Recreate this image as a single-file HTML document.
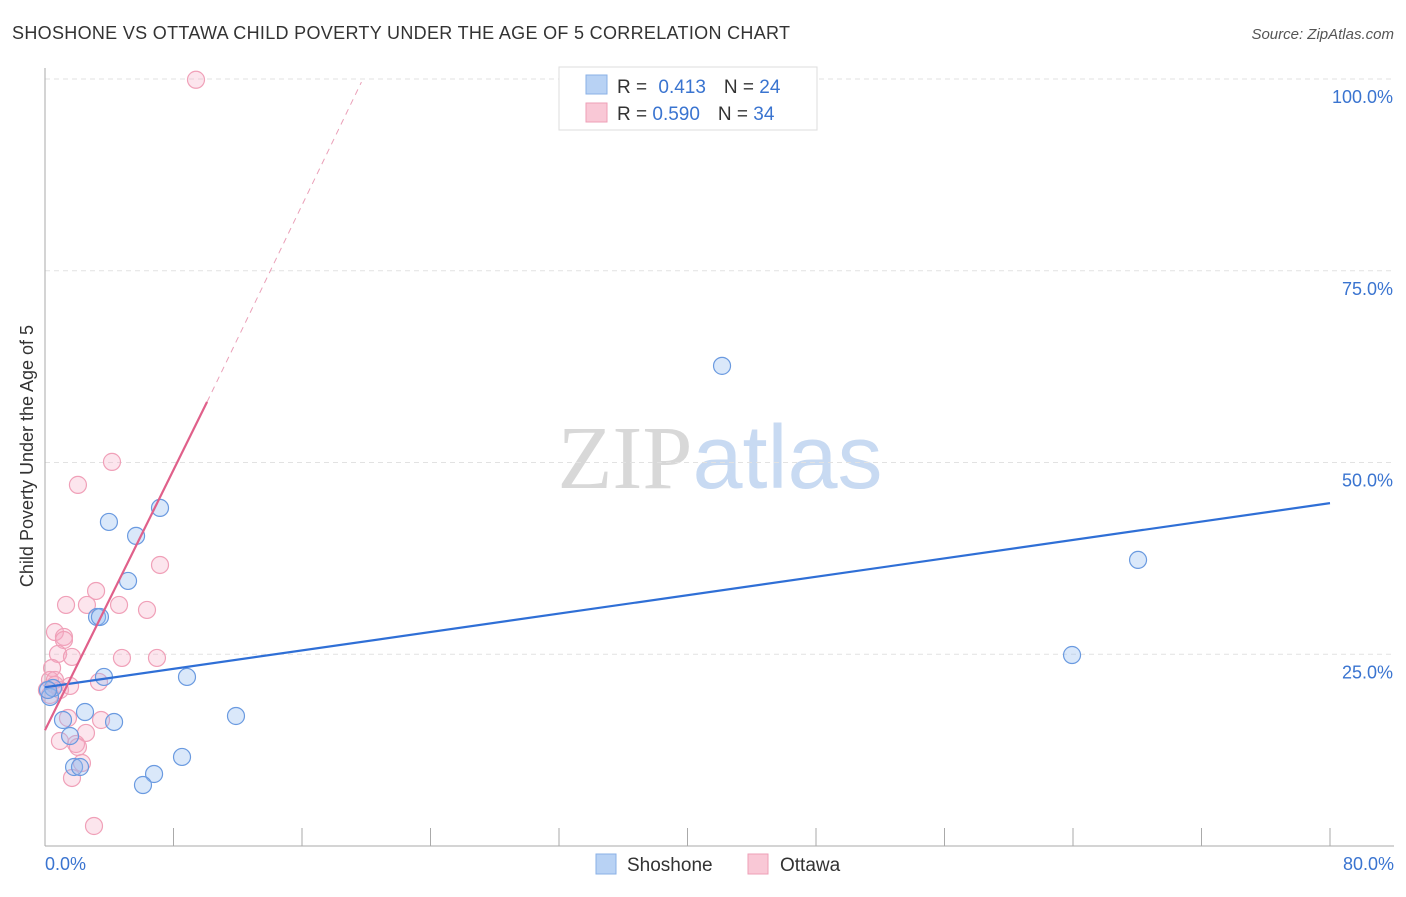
<!DOCTYPE html>
<html><head><meta charset="utf-8"><style>
body{margin:0;background:#fff;font-family:"Liberation Sans",sans-serif;}
svg text{font-family:"Liberation Sans",sans-serif;}
</style></head><body>
<svg id="chart" width="1406" height="892" xmlns="http://www.w3.org/2000/svg">
<text x="12" y="39" font-size="18" fill="#333" textLength="778" lengthAdjust="spacing">SHOSHONE VS OTTAWA CHILD POVERTY UNDER THE AGE OF 5 CORRELATION CHART</text>
<text x="1394" y="39" font-size="15" fill="#555" font-style="italic" text-anchor="end">Source: ZipAtlas.com</text>
<text x="720" y="488" font-size="90" text-anchor="middle"><tspan fill="#d8d8d8" font-family="Liberation Serif">ZIP</tspan><tspan fill="#c8daf2">atlas</tspan></text>
<g id="grid"></g>
<g id="axes"></g>
<g id="pts"></g>
<g id="trends"></g>
<text transform="translate(33,456) rotate(-90)" font-size="18" fill="#333" text-anchor="middle">Child Poverty Under the Age of 5</text>
<text x="45" y="870" font-size="18" fill="#3a74d0">0.0%</text>
<text x="1394" y="870" font-size="18" fill="#3a74d0" text-anchor="end">80.0%</text>
<g>
<rect x="559" y="67" width="258" height="63" fill="#fff" stroke="#ddd"/>
<rect x="586" y="75" width="21" height="19" fill="#b8d2f4" stroke="#8ab0e6"/>
<rect x="586" y="103" width="21" height="19" fill="#f9c8d6" stroke="#ee9fb7"/>
<text x="617" y="93" font-size="19" fill="#333">R = <tspan fill="#3a74d0" dx="6">0.413</tspan><tspan dx="18" fill="#333">N = </tspan><tspan fill="#3a74d0">24</tspan></text>
<text x="617" y="120" font-size="19" fill="#333">R = <tspan fill="#3a74d0">0.590</tspan><tspan dx="18" fill="#333">N = </tspan><tspan fill="#3a74d0">34</tspan></text>
</g>
<g>
<rect x="596" y="854" width="20" height="20" fill="#b8d2f4" stroke="#8ab0e6"/>
<text x="627" y="871" font-size="19" fill="#333">Shoshone</text>
<rect x="748" y="854" width="20" height="20" fill="#f9c8d6" stroke="#ee9fb7"/>
<text x="780" y="871" font-size="19" fill="#333">Ottawa</text>
</g>
</svg>
<script>
const yTicks=[25,50,75,100];
const yTickLabels=["25.0%","50.0%","75.0%","100.0%"];
const xTicks=[0,8,16,24,32,40,48,56,64,72,80];
const blueX=[3.98,5.67,7.16,5.17,3.24,3.42,3.67,8.84,11.89,4.30,2.49,1.12,1.56,1.81,2.18,8.53,6.79,6.10,42.15,68.05,63.94,0.31,0.50,0.19];
const blueY=[42.25,40.43,44.08,34.56,29.86,29.86,22.04,22.04,16.95,16.17,17.47,16.43,14.34,10.30,10.30,11.61,9.39,7.95,62.6,37.3,24.9,19.43,20.6,20.34];
const pinkX=[9.40,4.17,2.05,7.16,3.18,1.31,2.61,4.61,6.35,0.62,1.18,1.18,0.81,1.68,4.79,6.97,0.44,0.31,0.62,0.93,1.56,3.36,0.31,3.49,1.43,0.93,2.55,1.93,2.05,2.30,1.68,3.05,0.62,0.12];
const pinkY=[99.9,50.08,47.08,36.64,33.25,31.43,31.43,31.43,30.78,27.9,27.26,26.86,25.04,24.65,24.52,24.52,23.21,21.65,21.0,20.34,20.87,21.39,19.69,16.43,16.69,13.69,14.74,13.3,12.91,10.82,8.87,2.61,21.65,20.34];
const blueTrend=[0,20.7,80,44.7];
const pinkTrend=[0,15.1,10.09,57.9,19.7,99.6];
const NS="http://www.w3.org/2000/svg";
const sx=v=>45+v*(1330-45)/80;
const sy=v=>846-v*(846-79)/100;
function mk(parent,tag,attrs){const e=document.createElementNS(NS,tag);for(const k in attrs)e.setAttribute(k,attrs[k]);document.getElementById(parent).appendChild(e);return e;}
yTicks.forEach((t,i)=>{
 const l=mk('grid','line',{x1:45,x2:1394,y1:sy(t),y2:sy(t),stroke:'#e2e2e2','stroke-dasharray':'5,4'});
 
 
 const tx=mk('grid','text',{x:1393,y:sy(t)+24,'font-size':18,fill:'#3a74d0','text-anchor':'end'});
 tx.textContent=yTickLabels[i];
 
 
});
let a=mk('axes','line',{x1:45,x2:45,y1:68,y2:846,stroke:'#aaa'});


a=mk('axes','line',{x1:45,x2:1394,y1:846,y2:846,stroke:'#aaa'});


xTicks.forEach(t=>{
 const l=mk('axes','line',{x1:sx(t),x2:sx(t),y1:828,y2:846,stroke:'#aaa'});
 
 
});
function dots(xs,ys,fill,stroke,name){
 xs.forEach((x,i)=>{
  const c=mk('pts','circle',{cx:sx(x),cy:sy(ys[i]),r:8.5,fill:fill,stroke:stroke,'stroke-width':1.2});
  
  
 });
}
dots(pinkX,pinkY,'rgba(246,170,194,0.3)','#f0a0b8','ottawa-point');
dots(blueX,blueY,'rgba(150,190,240,0.35)','#6a9ae0','shoshone-point');
let t=mk('trends','line',{x1:sx(blueTrend[0]),y1:sy(blueTrend[1]),x2:sx(blueTrend[2]),y2:sy(blueTrend[3]),stroke:'#2f6fd6','stroke-width':2.2});


t=mk('trends','line',{x1:sx(pinkTrend[0]),y1:sy(pinkTrend[1]),x2:sx(pinkTrend[2]),y2:sy(pinkTrend[3]),stroke:'#e0608a','stroke-width':2.2});


t=mk('trends','line',{x1:sx(pinkTrend[2]),y1:sy(pinkTrend[3]),x2:sx(pinkTrend[4]),y2:sy(pinkTrend[5]),stroke:'#eaa0b8','stroke-width':1,'stroke-dasharray':'6,5'});


</script>
</body></html>
